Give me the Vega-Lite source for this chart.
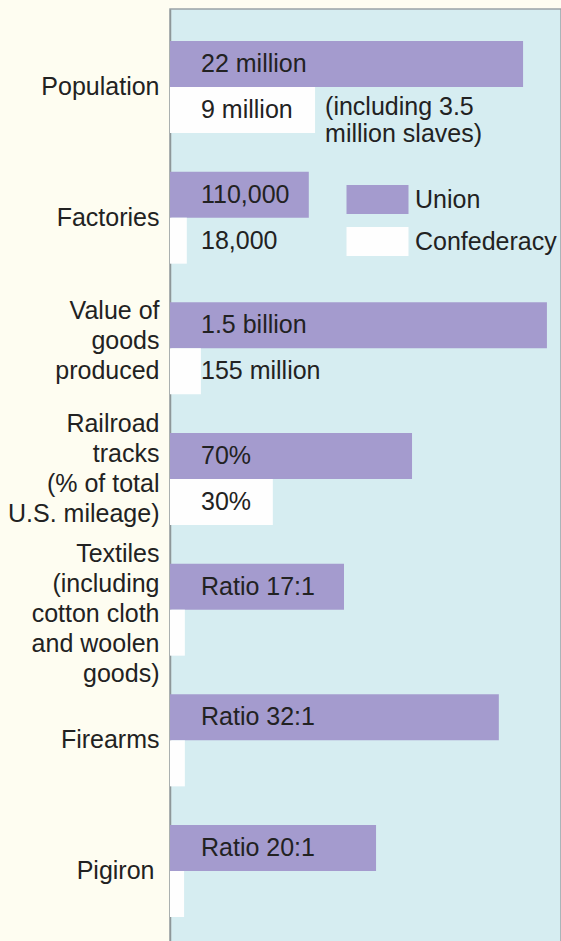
{
  "$schema": "https://vega.github.io/schema/vega-lite/v6.json",
  "autosize": "none",
  "padding": {"left": 170, "top": 9, "right": 0, "bottom": 0},
  "width": 391,
  "height": 934,
  "background": "#fefdf1",
  "config": {
    "view": {"fill": "#d6edf1", "stroke": "#9aa3a6", "strokeWidth": 1.5},
    "font": "Liberation Sans",
    "text": {"font": "Liberation Sans", "fontSize": 25, "fill": "#222222"}
  },
  "data": {
    "values": [
      {"category": "Population", "side": "Union", "length": 90.3, "label": "22 million"},
      {"category": "Population", "side": "Confederacy", "length": 37.1, "label": "9 million", "note": ["(including 3.5", "million slaves)"]},
      {"category": "Factories", "side": "Union", "length": 35.5, "label": "110,000"},
      {"category": "Factories", "side": "Confederacy", "length": 4.3, "label": "18,000"},
      {"category": "Value of|goods|produced", "side": "Union", "length": 96.4, "label": "1.5 billion"},
      {"category": "Value of|goods|produced", "side": "Confederacy", "length": 7.9, "label": "155 million"},
      {"category": "Railroad|tracks|(% of total|U.S. mileage)", "side": "Union", "length": 61.9, "label": "70%"},
      {"category": "Railroad|tracks|(% of total|U.S. mileage)", "side": "Confederacy", "length": 26.3, "label": "30%"},
      {"category": "Textiles|(including|cotton cloth|and woolen|goods)", "side": "Union", "length": 44.5, "label": "Ratio 17:1"},
      {"category": "Textiles|(including|cotton cloth|and woolen|goods)", "side": "Confederacy", "length": 3.8, "label": ""},
      {"category": "Firearms", "side": "Union", "length": 84.1, "label": "Ratio 32:1"},
      {"category": "Firearms", "side": "Confederacy", "length": 3.8, "label": ""},
      {"category": "Pigiron", "side": "Union", "length": 52.7, "label": "Ratio 20:1"},
      {"category": "Pigiron", "side": "Confederacy", "length": 3.6, "label": ""}
    ]
  },
  "encoding": {
    "y": {
      "field": "category",
      "type": "nominal",
      "sort": null,
      "scale": {"paddingInner": 0.296, "paddingOuter": 0.222, "align": 0.552},
      "axis": {
        "title": null,
        "ticks": false,
        "domainColor": "#8e9799",
        "domainWidth": 1.5,
        "labelFont": "Liberation Sans",
        "labelFontSize": 25,
        "labelColor": "#222222",
        "labelPadding": {
          "condition": {"test": "datum.value == 'Pigiron'", "value": 16},
          "value": 11
        },
        "labelLineHeight": 30,
        "labelLimit": 200,
        "labelExpr": "split(datum.label, '|')",
        "labelOffset": {
          "condition": [
            {"test": "length(split(datum.value, '|')) == 3", "value": -37},
            {"test": "length(split(datum.value, '|')) == 4", "value": -55},
            {"test": "length(split(datum.value, '|')) == 5", "value": -56}
          ],
          "value": 0
        }
      }
    },
    "yOffset": {
      "field": "side",
      "type": "nominal",
      "sort": ["Union", "Confederacy"],
      "scale": {"paddingInner": 0, "paddingOuter": 0}
    }
  },
  "layer": [
    {
      "mark": {"type": "bar", "cornerRadius": 0},
      "encoding": {
        "x": {"field": "length", "type": "quantitative", "scale": {"domain": [0, 100]}, "axis": null},
        "color": {
          "field": "side",
          "type": "nominal",
          "scale": {"domain": ["Union", "Confederacy"], "range": ["#a49bce", "#fefefe"]},
          "legend": {
            "title": null,
            "orient": "none",
            "legendX": 192,
            "legendY": 175,
            "symbolType": "M-2,-0.94H2V0.94H-2Z",
            "symbolSize": 961,
            "symbolStrokeWidth": 0,
            "labelFont": "Liberation Sans",
            "labelFontSize": 25,
            "labelColor": "#222222",
            "labelOffset": 22,
            "rowPadding": 11
          }
        }
      }
    },
    {
      "mark": {"type": "text", "align": "left", "baseline": "middle", "dx": 31},
      "encoding": {
        "x": {"datum": 0, "type": "quantitative"},
        "text": {"field": "label"}
      }
    },
    {
      "transform": [{"filter": "isValid(datum.note)"}],
      "mark": {"type": "text", "align": "left", "baseline": "middle", "dx": 10, "dy": -3, "lineHeight": 27},
      "encoding": {
        "x": {"field": "length", "type": "quantitative"},
        "text": {"field": "note"}
      }
    }
  ]
}
